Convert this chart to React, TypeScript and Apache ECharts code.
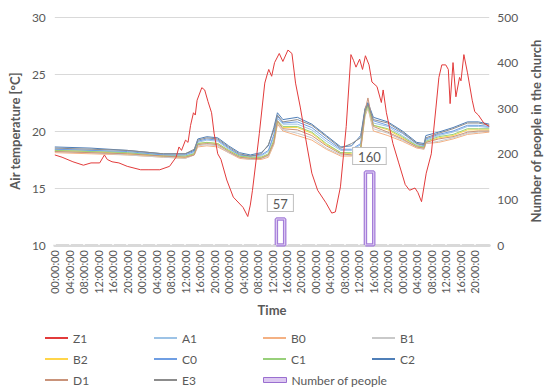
import React, { useEffect, useRef } from 'react';
import * as echarts from 'echarts';

// Hours since start of the record (5 days)
const clusterHours = [0, 10, 20, 30, 36, 38.5, 39.5, 42, 45, 48, 51, 54, 57, 59, 60.5, 61.5, 63, 67, 71, 75, 79, 82, 84.5, 85.7, 86.5, 88, 92, 96, 100, 102, 102.5, 106, 110, 114, 117, 120];

const A1 = [18.4, 18.3, 18.1, 17.9, 17.8, 18.1, 19.0, 19.2, 19.1, 18.4, 17.9, 17.7, 17.8, 18.2, 19.5, 21.1, 20.6, 20.6, 20.1, 19.1, 18.3, 18.3, 18.8, 21.7, 22.3, 20.7, 20.4, 19.6, 18.8, 18.6, 19.2, 19.6, 19.9, 20.4, 20.4, 20.3];
const B0 = [18.1, 18.0, 17.9, 17.7, 17.6, 17.9, 18.6, 18.7, 18.6, 18.1, 17.6, 17.5, 17.5, 17.7, 18.8, 20.6, 20.0, 19.6, 19.2, 18.4, 17.8, 17.8, 18.3, 21.3, 22.0, 20.0, 19.6, 19.1, 18.5, 18.4, 18.9, 19.0, 19.3, 19.7, 19.8, 19.9];
const B1 = [18.2, 18.1, 17.9, 17.7, 17.6, 17.9, 18.7, 18.8, 18.7, 18.1, 17.7, 17.5, 17.6, 17.8, 18.9, 20.7, 20.1, 19.8, 19.4, 18.5, 17.9, 17.9, 18.4, 21.4, 22.1, 20.2, 19.8, 19.2, 18.6, 18.4, 18.9, 19.1, 19.4, 19.8, 19.9, 20.0];
const B2 = [18.3, 18.2, 18.0, 17.8, 17.7, 18.0, 18.9, 19.0, 18.9, 18.3, 17.8, 17.6, 17.7, 17.9, 19.1, 20.8, 20.3, 20.3, 19.8, 18.8, 18.1, 18.0, 18.5, 21.6, 22.3, 20.5, 20.1, 19.4, 18.7, 18.5, 19.0, 19.4, 19.6, 20.1, 20.1, 20.1];
const C0 = [18.4, 18.3, 18.2, 17.9, 17.9, 18.2, 19.1, 19.3, 19.2, 18.5, 17.9, 17.8, 17.9, 18.3, 19.7, 21.3, 20.7, 20.8, 20.3, 19.3, 18.4, 18.4, 18.9, 21.9, 22.4, 20.9, 20.5, 19.8, 18.9, 18.7, 19.3, 19.7, 20.0, 20.5, 20.5, 20.4];
const C1 = [18.3, 18.2, 18.1, 17.8, 17.8, 18.0, 18.9, 19.0, 18.9, 18.3, 17.8, 17.7, 17.7, 18.0, 19.2, 20.9, 20.4, 20.4, 19.9, 18.9, 18.1, 18.1, 18.6, 21.6, 22.2, 20.5, 20.2, 19.5, 18.7, 18.6, 19.1, 19.5, 19.7, 20.2, 20.2, 20.2];
const C2 = [18.6, 18.5, 18.3, 18.0, 18.0, 18.3, 19.3, 19.5, 19.4, 18.7, 18.1, 17.9, 18.1, 18.7, 20.3, 21.6, 21.0, 21.2, 20.6, 19.6, 18.6, 18.7, 19.6, 22.0, 22.5, 21.2, 20.8, 20.0, 19.0, 18.9, 19.6, 19.9, 20.3, 20.8, 20.8, 20.6];
const D1 = [18.2, 18.1, 18.0, 17.8, 17.7, 17.9, 18.8, 18.9, 18.8, 18.2, 17.7, 17.6, 17.6, 17.9, 19.0, 20.9, 20.2, 20.1, 19.6, 18.7, 18.0, 17.9, 18.4, 21.8, 22.9, 20.4, 19.9, 19.3, 18.6, 18.5, 19.0, 19.3, 19.5, 19.9, 20.0, 20.0];
const E3 = [18.5, 18.4, 18.3, 18.0, 18.0, 18.4, 19.2, 19.4, 19.3, 18.6, 18.0, 17.8, 18.0, 18.8, 20.1, 21.4, 20.8, 21.0, 20.5, 19.5, 18.5, 18.9, 19.4, 21.8, 22.3, 21.0, 20.7, 19.9, 18.9, 18.8, 19.4, 19.8, 20.2, 20.7, 20.7, 20.5];

const z1Hours = [0, 2, 5, 7.9, 10, 12.4, 13.7, 14.5, 15.8, 17.7, 20, 23.7, 26, 29, 31.7, 33.5, 34.3, 35, 36.1, 36.8, 37.5, 38.3, 38.8, 39.3, 40.6, 41.4, 42.3, 43.3, 44, 45, 45.9, 47.5, 49.3, 52, 53.3, 54, 54.6, 56.5, 58, 58.7, 59.1, 59.9, 60.7, 62, 63, 64.4, 65.5, 66.5, 67.8, 69.7, 71, 72.6, 74.9, 76.5, 77.5, 78.9, 80.5, 81.8, 82.5, 83.2, 84.2, 85, 85.8, 86.8, 87.6, 89, 90.2, 90.7, 91.6, 93.4, 95, 96.8, 98, 99.5, 100.3, 101.3, 102.6, 104, 105.3, 106.1, 106.9, 108, 108.7, 109.2, 110, 110.8, 111.8, 112.2, 113, 114, 115.3, 116, 117, 118.5, 120];
const Z1 = [17.9, 17.7, 17.3, 17.0, 17.2, 17.2, 17.9, 17.5, 17.3, 17.2, 16.9, 16.6, 16.6, 16.6, 16.9, 17.7, 18.6, 18.3, 19.2, 19.0, 20.5, 21.6, 21.4, 22.7, 23.8, 23.6, 22.6, 21.6, 19.8, 18.0, 17.5, 15.7, 14.2, 13.3, 12.5, 13.5, 14.8, 19.8, 24.2, 25.0, 25.4, 24.8, 26.0, 26.8, 26.1, 27.1, 26.8, 24.2, 22.1, 18.6, 16.3, 14.8, 13.7, 12.8, 12.9, 15.1, 20.4, 26.7, 26.2, 25.6, 26.3, 25.4, 26.6, 25.8, 24.3, 23.9, 22.5, 23.6, 21.6, 18.9, 17.2, 15.3, 14.8, 15.0, 14.6, 13.8, 16.3, 18.0, 22.1, 24.7, 25.8, 25.8, 25.4, 22.4, 26.0, 23.0, 24.7, 24.4, 26.7, 25.1, 22.7, 21.7, 21.4, 20.7, 20.4];

const peopleStart = [61.2, 85.8];
const peopleEnd = [63.5, 88.1];
const peopleCount = [57, 160];

const sensorNames = ['A1', 'B0', 'B1', 'B2', 'C0', 'C1', 'C2', 'D1', 'E3'];
const sensorValues = [A1, B0, B1, B2, C0, C1, C2, D1, E3];
const colors: Record<string, string> = {
  Z1: '#e23b3b',
  A1: '#9dc3e6',
  B0: '#f4b183',
  B1: '#c9c9c9',
  B2: '#ffd54a',
  C0: '#6f9ee3',
  C1: '#98d07a',
  C2: '#4f7fb8',
  D1: '#c9937a',
  E3: '#8c8c8c',
};
const legendOrder = ['Z1', 'A1', 'B0', 'B1', 'B2', 'C0', 'C1', 'C2', 'D1', 'E3', 'Number of people'];
const PEOPLE = 'Number of people';
const TXT = '#595959';
const FONT = 'Lato';

export default function App() {
  const ref = useRef<HTMLDivElement>(null);
  useEffect(() => {
    if (!ref.current) return;
    const chart = echarts.init(ref.current, undefined, { renderer: 'svg' });
    const series: any[] = [];
    series.push({
      name: 'Z1', type: 'line', data: z1Hours.map((h, i) => [h, Z1[i]]),
      showSymbol: false, lineStyle: { width: 1, color: colors.Z1 }, itemStyle: { color: colors.Z1 }, z: 3,
    });
    sensorNames.forEach((n, k) => {
      series.push({
        name: n, type: 'line', data: clusterHours.map((h, i) => [h, sensorValues[k][i]]),
        showSymbol: false, lineStyle: { width: 1, color: colors[n] }, itemStyle: { color: colors[n] }, z: 2,
      });
    });
    peopleStart.forEach((s, i) => {
      const e = peopleEnd[i];
      const c = peopleCount[i];
      const pts: any[] = [[s, 0], { value: [s, c], label: {
        show: true, formatter: String(c), position: 'top', distance: 8, offset: [4, 0],
        backgroundColor: '#fff', borderColor: '#bfbfbf', borderWidth: 1, padding: [2, 5, 1, 5],
        fontSize: 13, color: TXT, fontFamily: FONT,
      } }, [e, c], [e, 0], [s, 0]];
      series.push({
        name: PEOPLE, type: 'line', yAxisIndex: 1, data: pts, showSymbol: true, showAllSymbol: true,
        symbol: 'circle', symbolSize: 0, lineStyle: { width: 3.5, color: '#a47dd9' }, itemStyle: { color: '#a47dd9' }, z: 4,
      });
      series.push({
        name: PEOPLE, type: 'line', yAxisIndex: 1, data: [[s, 0], [s, c], [e, c], [e, 0], [s, 0]], showSymbol: false,
        lineStyle: { width: 1, color: '#e4d6f5' }, itemStyle: { color: '#a47dd9' }, z: 5,
      });
    });

    const legends = legendOrder.map((n, i) => {
      const col = i % 4;
      const row = Math.floor(i / 4);
      const l: any = {
        data: [n], left: 45 + col * 109, top: 332 + row * 21, padding: 0,
        icon: 'rect', itemWidth: 23, itemHeight: 2, itemGap: 5,
        textStyle: { color: TXT, fontSize: 12, fontFamily: FONT },
      };
      if (n === PEOPLE) {
        l.itemHeight = 5;
        l.itemStyle = { color: '#dcc8f0', borderColor: '#9a6fd0', borderWidth: 1 };
      }
      return l;
    });

    chart.setOption({
      animation: false,
      textStyle: { fontFamily: FONT },
      grid: { left: 43, right: 52, top: 17, bottom: 147 },
      legend: legends,
      xAxis: {
        type: 'value', min: 0, max: 120, interval: 4,
        name: 'Time', nameLocation: 'middle', nameGap: 58,
        nameTextStyle: { color: TXT, fontWeight: 'bold', fontSize: 13, fontFamily: FONT },
        axisLine: { lineStyle: { color: '#d9d9d9', width: 3 } },
        axisTick: { show: true, inside: true, length: 3, lineStyle: { color: '#ffffff', width: 1.5 } },
        splitLine: { show: false },
        axisLabel: {
          rotate: 90, fontSize: 11, color: TXT, margin: 5, showMaxLabel: false, fontFamily: FONT,
          formatter: (v: number) => { const h = v % 24; return (h < 10 ? '0' : '') + h + ':00:00'; },
        },
      },
      yAxis: [
        {
          type: 'value', min: 10, max: 30, interval: 5,
          name: 'Air temperature [°C]', nameLocation: 'middle', nameGap: 30,
          nameTextStyle: { color: TXT, fontWeight: 'bold', fontSize: 13, fontFamily: FONT },
          axisLine: { show: false }, axisTick: { show: false },
          axisLabel: { color: TXT, fontSize: 12, margin: 9, fontFamily: FONT },
          splitLine: { lineStyle: { color: '#d9d9d9', width: 1 } },
        },
        {
          type: 'value', min: 0, max: 500, interval: 100, position: 'right',
          name: 'Number of people in the church', nameLocation: 'middle', nameGap: 38, nameRotate: 90,
          nameTextStyle: { color: TXT, fontWeight: 'bold', fontSize: 13, fontFamily: FONT },
          axisLine: { show: false }, axisTick: { show: false },
          axisLabel: { color: TXT, fontSize: 12, margin: 8, fontFamily: FONT },
          splitLine: { show: false },
        },
      ],
      series,
    });
    return () => chart.dispose();
  }, []);
  return <div ref={ref} style={{ width: 550, height: 392, position: 'fixed', left: 0, top: 0, background: '#fff' }} />;
}
